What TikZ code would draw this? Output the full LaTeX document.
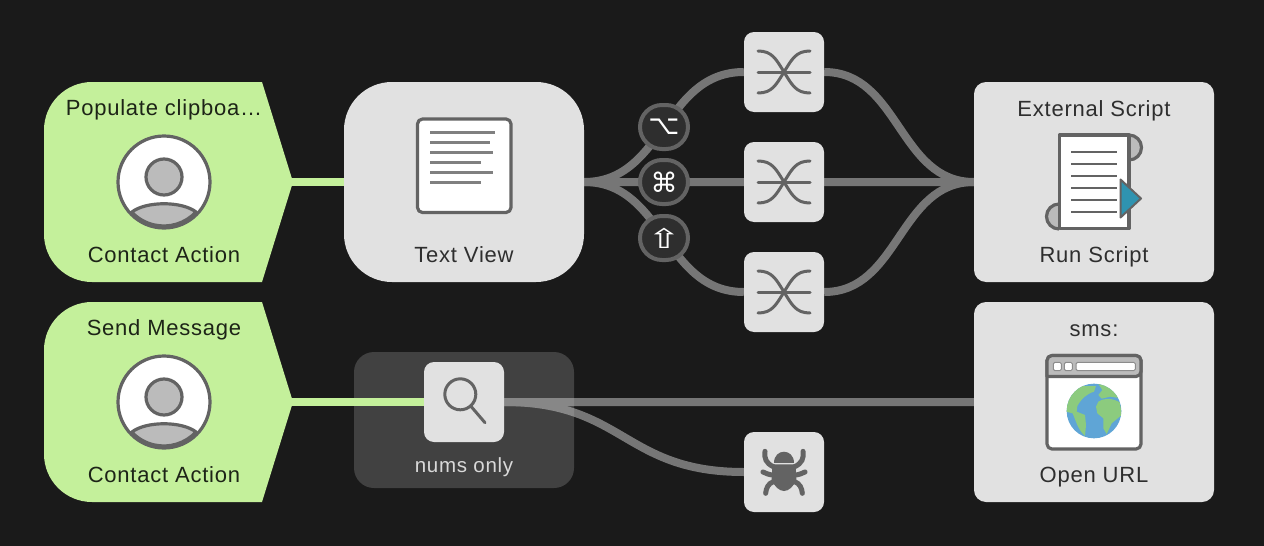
\documentclass[tikz,border=0pt]{standalone}
\usepackage{graphicx}
\usepackage{fontspec}
\setmainfont[LetterSpace=3.5]{Liberation Sans}
\newfontfamily\keyfont{DejaVu Sans}
\definecolor{bgdark}{HTML}{1A1A1A}
\definecolor{boxgray}{HTML}{E1E1E1}
\definecolor{groupgray}{HTML}{414141}
\definecolor{actgreen}{HTML}{C4F09B}
\definecolor{iconline}{HTML}{636363}
\definecolor{iconfill}{HTML}{BBBBBB}
\definecolor{scriptblue}{HTML}{2F93B0}
\definecolor{globeblue}{HTML}{5FA5D6}
\definecolor{globegreen}{HTML}{8CCB7E}
\tikzset{
  box/.style={fill=boxgray, inner sep=0pt, minimum width=240, minimum height=200, rounded corners=12},
  smallbox/.style={box, minimum width=80, minimum height=80, rounded corners=10},
  lbl/.style={anchor=base, inner sep=0pt, text=black!82, font=\fontsize{22}{24}\selectfont},
  greenlbl/.style={lbl, text=black!75!actgreen!60!black},
  wire/.style={line width=8, draw=black!25},
  greenwire/.style={line width=8, draw=actgreen},
  keybadge/.style={draw=iconline, line width=4, fill=black!82, text=white, inner sep=0pt,
    minimum width=48, minimum height=44, rounded corners=22, font=\keyfont\fontsize{27}{28}\selectfont},
  iconstroke/.style={draw=iconline, line width=3.2, line join=round},
  contacticon/.pic={
    \draw[iconstroke, fill=white] (0,0) circle (46);
    \draw[iconstroke, fill=iconfill] (0,-5) circle (18);
    \draw[iconstroke, fill=iconfill] (-32,30) .. controls (-18,19) and (18,19) .. (32,30)
      arc[start angle=43, end angle=137, radius=44] -- cycle;
  },
  switchicon/.pic={
    \draw[iconstroke, line width=3, line cap=round] (-26,0) -- (26,0);
    \draw[iconstroke, line width=3, line cap=round] (-26,-21) .. controls (-12,-21) and (-8,-13) .. (0,0) .. controls (8,13) and (12,21) .. (26,21);
    \draw[iconstroke, line width=3, line cap=round] (-26,21) .. controls (-12,21) and (-8,13) .. (0,0) .. controls (8,-13) and (12,-21) .. (26,-21);
  }
}
\begin{document}
\begin{tikzpicture}[x=1pt, y=-1pt]
  \fill[bgdark] (0,0) rectangle (1264,546);

  % boxes
  \node[box, minimum height=200, rounded corners=48] (textView) at (464,182) {};
  \node[box] (extScript) at (1094,182) {};
  \node[box] (openUrl) at (1094,402) {};
  \node[box, fill=groupgray, minimum width=220, minimum height=136, rounded corners=20] (numsGroup) at (464,420) {};
  \node[smallbox] (swTop) at (784,72) {};
  \node[smallbox] (swMid) at (784,182) {};
  \node[smallbox] (swBot) at (784,292) {};
  \node[smallbox] (filterBox) at (464,402) {};
  \node[smallbox] (bugBox) at (784,472) {};

  % green actions
  \fill[actgreen] (262,82) -- (92,82) arc[start angle=270, end angle=180, radius=48] -- (44,234)
    arc[start angle=180, end angle=90, radius=48] -- (262,282) -- (293,182) -- cycle;
  \fill[actgreen] (262,302) -- (92,302) arc[start angle=270, end angle=180, radius=48] -- (44,454)
    arc[start angle=180, end angle=90, radius=48] -- (262,502) -- (293,402) -- cycle;
  \coordinate (popTip) at (291,182);
  \coordinate (sendTip) at (291,402);

  % wires
  \draw[greenwire] (popTip) -- (textView.west);
  \draw[greenwire] (sendTip) -- (filterBox.west);
  \begin{scope}[transparency group, opacity=.56]
    \draw[wire] (textView.east) .. controls +(80,0) and +(-80,0) .. (swTop.west);
    \draw[wire] (textView.east) -- (swMid.west);
    \draw[wire] (textView.east) .. controls +(80,0) and +(-80,0) .. (swBot.west);
    \draw[wire] (swTop.east) .. controls +(75,0) and +(-75,0) .. (extScript.west);
    \draw[wire] (swMid.east) -- (extScript.west);
    \draw[wire] (swBot.east) .. controls +(75,0) and +(-75,0) .. (extScript.west);
    \draw[wire] (filterBox.east) -- (openUrl.west);
    \draw[wire] (filterBox.east) .. controls +(120,0) and +(-120,0) .. (bugBox.west);
  \end{scope}

  % keys
  \node[keybadge] (optKey) at (664,127) {⌥};
  \node[keybadge] (cmdKey) at (664,182) {⌘};
  \node[keybadge] (shiftKey) at (664,238) {\scalebox{1.5}[1]{⇧}};

  % labels
  \node[greenlbl] (popTitle) at (164,115) {Populate clipboa…};
  \node[greenlbl] (popKind) at (164,262) {Contact Action};
  \node[greenlbl] (sendTitle) at (164,335) {Send Message};
  \node[greenlbl] (sendKind) at (164,482) {Contact Action};
  \node[lbl] (textViewLbl) at (464,262) {Text View};
  \node[lbl, text=black!15, font=\fontsize{20.5}{24}\selectfont] (numsLbl) at (464,472) {nums only};
  \node[lbl] (extTitle) at (1094,116) {External Script};
  \node[lbl] (extKind) at (1094,262) {Run Script};
  \node[lbl] (urlTitle) at (1094,336) {sms:};
  \node[lbl] (urlKind) at (1094,482) {Open URL};

  % icons
  \pic at (164,182) {contacticon};
  \pic at (164,402) {contacticon};
  \pic at (784,72) {switchicon};
  \pic at (784,182) {switchicon};
  \pic at (784,292) {switchicon};

  % text view icon
  \draw[iconstroke, fill=white, rounded corners=5] (417.5,119) rectangle (511,212.5);
  \foreach \yy/\xx in {132.7/495, 142.7/490, 152.7/493, 162.7/481, 172.7/493, 182.7/481}
    \draw[line width=2.8, draw=black!50] (430,\yy) -- (\xx,\yy);

  % magnifier
  \draw[iconstroke, line width=3] (460.3,394.3) circle (15.5);
  \draw[iconstroke, line width=3, line cap=round] (470.7,406) -- (485,422.7);

  % bug
  \begin{scope}[shift={(730,420)}, scale=1/3]
    \fill[iconline] (133,128) .. controls (133,85) and (192,85) .. (192,128) -- cycle;
    \fill[iconline] (127,133) -- (197,133) -- (199,178) .. controls (192,200) and (175,213) .. (162,213)
      .. controls (149,213) and (132,200) .. (125,178) -- cycle;
    \foreach \sx in {0,1} {
      \begin{scope}[shift={(\sx*324,0)}, xscale=1-2*\sx]
        \draw[iconline, line width=5, line cap=round] (130,140) .. controls (108,130) and (102,115) .. (105,94);
        \draw[iconline, line width=5, line cap=round] (130,165) .. controls (118,165) and (108,160) .. (99,156);
        \draw[iconline, line width=5, line cap=round] (130,185) .. controls (115,190) and (108,205) .. (107,220);
      \end{scope}
    }
  \end{scope}

  % script
  \draw[iconstroke, fill=iconfill] (1129,135) arc[start angle=270, end angle=450, radius=12.5];
  \draw[iconstroke, fill=iconfill] (1059,204) arc[start angle=270, end angle=90, radius=12.5];
  \draw[iconstroke, fill=white] (1059.5,135) rectangle (1129,228.5);
  \foreach \yy in {151.7,163.7,175.7,187.7,199.7,211.7}
    \draw[line width=2, draw=iconline] (1071,\yy) -- (1116.7,\yy);
  \draw[draw=iconline, line width=2, line join=round, fill=scriptblue] (1120.5,179.5) -- (1141,198.5) -- (1120.5,217.5) -- cycle;

  % browser
  \draw[iconstroke, fill=white, rounded corners=5] (1047,355.5) rectangle (1141,449);
  \draw[iconstroke, fill=iconfill, rounded corners=5] (1047,376.5) -- (1047,355.5) -- (1141,355.5) -- (1141,376.5) [sharp corners] -- cycle;
  \foreach \xa/\xb in {1053.3/1061.3, 1064.3/1072.3, 1076/1135.3}
    \draw[draw=black!45, fill=white, line width=1, rounded corners=1.5] (\xa,362.3) rectangle (\xb,370.7);
  \begin{scope}[shift={(970,300)}, scale=1/3]
    \fill[globeblue] (372,333) circle (82);
    \clip (372,333) circle (82);
    \fill[globegreen] (325,258) -- (378,258) -- (372,275) .. controls (350,282) and (335,295) .. (322,318)
      -- (320,335) -- (345,345) -- (348,375) -- (345,408) .. controls (325,390) and (318,365) .. (308,340)
      -- (288,335) -- (285,290) -- cycle;
    \fill[globegreen] (378,320) -- (385,305) .. controls (405,292) and (430,295) .. (450,308) -- (455,345)
      -- (425,370) -- (410,402) -- (400,385) -- (400,355) -- (382,340) -- cycle;
    \fill[globegreen] (385,252) -- (420,258) -- (455,295) -- (420,290) -- (395,296) -- (385,285) -- (397,270) -- cycle;
  \end{scope}
\end{tikzpicture}
\end{document}
